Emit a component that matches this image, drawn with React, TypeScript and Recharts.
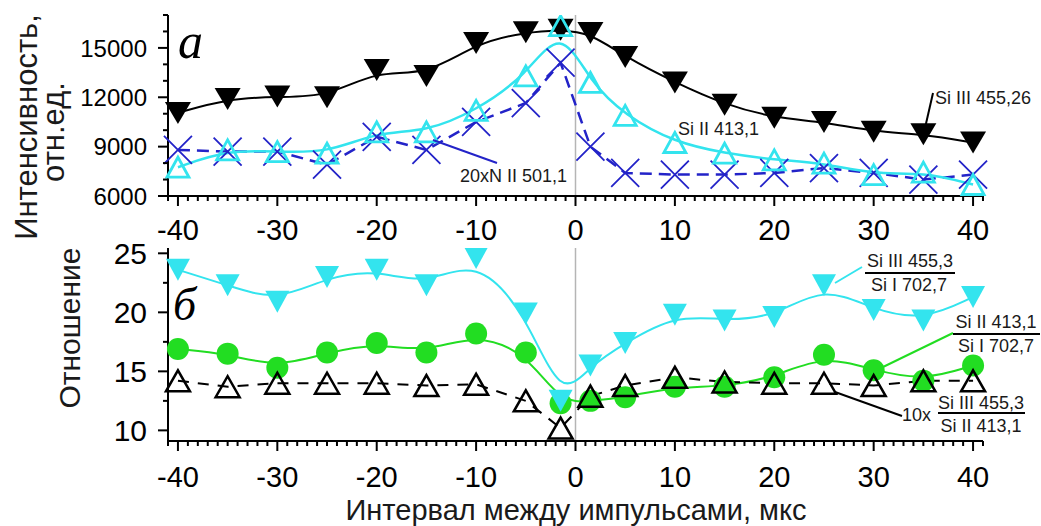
import React from 'react';
import { LineChart, Line, XAxis, YAxis, ReferenceLine } from 'recharts';

// interval between pulses, µs
const intervals = [-40, -35, -30, -25, -20, -15, -10, -5, -1.5, 1.5, 5, 10, 15, 20, 25, 30, 35, 40];

// panel а — intensity, arb. units
const siIII455 = [11050, 11900, 12050, 12000, 13650, 13300, 15300, 15950, 16100, 15900, 14450, 12900, 11550, 10750, 10500, 9900, 9750, 9250];
const siII413 = [7750, 8800, 8700, 8600, 9900, 9900, 11200, 13300, 16350, 12900, 10900, 9250, 8600, 8200, 8000, 7300, 7450, 6700];
const nII501x20 = [8800, 8700, 8700, 7900, 9600, 8800, 10500, 11650, 14100, 9000, 7400, 7300, 7300, 7400, 7700, 7400, 7000, 7300];

// panel б — line ratios
const siIIIoverSiI = [23.6, 22.3, 20.9, 23.0, 23.6, 22.3, 24.6, 19.9, 12.5, 15.5, 17.4, 19.8, 19.3, 19.6, 22.3, 20.2, 19.3, 21.3];
const siIIoverSiI = [16.9, 16.5, 15.3, 16.6, 17.4, 16.6, 18.2, 16.6, 12.3, 12.5, 12.8, 13.7, 13.7, 14.5, 16.4, 15.1, 14.2, 15.5];
const siIIIoverSiIIx10 = [14.2, 13.7, 14.0, 14.0, 14.0, 13.8, 13.9, 12.5, 10.2, 12.9, 13.8, 14.5, 14.1, 14.0, 14.0, 13.8, 14.2, 14.2];

const xLabels = [-40, -30, -20, -10, 0, 10, 20, 30, 40];
const topYLabels = [6000, 9000, 12000, 15000];
const bottomYLabels = [10, 15, 20, 25];

const topData = intervals.map((t, i) => ({ t, a: siIII455[i], b: siII413[i], c: nII501x20[i] }));
const bottomData = intervals.map((t, i) => ({ t, r1: siIIIoverSiI[i], r2: siIIoverSiI[i], r3: siIIIoverSiIIx10[i] }));

const xTicksAll: number[] = [];
for (let v = -41; v <= 41; v++) xTicksAll.push(v);
const topYTicks: number[] = [];
for (let v = 6000; v <= 17000; v += 1000) topYTicks.push(v);
const bottomYTicks = [10, 12.5, 15, 17.5, 20, 22.5, 25];

const FONT = '"Liberation Sans", Arial, sans-serif';
const SERIF = '"Liberation Serif", "Times New Roman", serif';
const CYAN = '#33e4ee';
const BLUE = '#2323c8';
const GREEN = '#22dd22';

const makeXTick = (offset: number) => (p: any) => {
  const { x, y, payload } = p;
  const major = xLabels.includes(payload.value);
  return (
    <g>
      <line x1={x} x2={x} y1={y} y2={y + (major ? 10 : 5)} stroke="#000" strokeWidth={2} />
      {major && (
        <text x={x} y={y + offset} textAnchor="middle" fontSize={29} fontFamily={FONT} fill="#000">
          {payload.value}
        </text>
      )}
    </g>
  );
};

const makeYTick = (labels: number[], size: number) => (p: any) => {
  const { x, y, payload } = p;
  const major = labels.includes(payload.value);
  return (
    <g>
      <line x1={x} x2={x - (major ? 10 : 5)} y1={y} y2={y} stroke="#000" strokeWidth={2} />
      {major && (
        <text x={x - 21} y={y} dy="0.36em" textAnchor="end" fontSize={size} fontFamily={FONT} fill="#000">
          {payload.value}
        </text>
      )}
    </g>
  );
};

const downTri = (fill: string, w: number, h: number) => (p: any) => {
  const { cx, cy, index } = p;
  return (
    <path key={`dt${index}`} d={`M${cx - w / 2},${cy - h / 2}L${cx + w / 2},${cy - h / 2}L${cx},${cy + h / 2}Z`} fill={fill} />
  );
};

const upTri = (stroke: string, w: number, h: number, sw: number) => (p: any) => {
  const { cx, cy, index } = p;
  return (
    <path key={`ut${index}`} d={`M${cx - w / 2},${cy + h / 2}L${cx + w / 2},${cy + h / 2}L${cx},${cy - h / 2}Z`} fill="none" stroke={stroke} strokeWidth={sw} strokeLinejoin="miter" />
  );
};

const cross = (stroke: string, s: number) => (p: any) => {
  const { cx, cy, index } = p;
  return (
    <path key={`x${index}`} d={`M${cx - s},${cy - s}L${cx + s},${cy + s}M${cx - s},${cy + s}L${cx + s},${cy - s}`} stroke={stroke} strokeWidth={1.8} fill="none" />
  );
};

const disc = (fill: string, r: number) => (p: any) => {
  const { cx, cy, index } = p;
  return <circle key={`c${index}`} cx={cx} cy={cy} r={r} fill={fill} />;
};

const axisLine = { stroke: '#000', strokeWidth: 2 };

function Annotations() {
  const t = { fontFamily: FONT, fill: '#1a1a1a' };
  return (
    <svg width={1041} height={526} style={{ position: 'absolute', left: 0, top: 0, pointerEvents: 'none' }}>
      <text x={37} y={127} transform="rotate(-90 37 127)" textAnchor="middle" fontSize={31} {...t}>Интенсивность,</text>
      <text x={64} y={132} transform="rotate(-90 64 132)" textAnchor="middle" fontSize={31} {...t}>отн.ед.</text>
      <text x={80} y={328} transform="rotate(-90 80 328)" textAnchor="middle" fontSize={30} {...t}>Отношение</text>
      <text x={576} y={520} textAnchor="middle" fontSize={29} {...t}>Интервал между импульсами, мкс</text>

      <text x={178} y={58} fontFamily={SERIF} fontStyle="italic" fontSize={50} fill="#000">а</text>
      <text x={173} y={320} fontFamily={SERIF} fontStyle="italic" fontSize={46} fill="#000">б</text>

      <line x1={925} y1={128} x2={933} y2={93} stroke="#000" strokeWidth={2} />
      <text x={935} y={104} fontSize={18} {...t}>Si III 455,26</text>
      <text x={678} y={135} fontSize={18} {...t}>Si II 413,1</text>
      <line x1={433} y1={140} x2={497} y2={163} stroke={BLUE} strokeWidth={2} />
      <text x={460} y={182} fontSize={18} {...t}>20xN II 501,1</text>

      <line x1={835} y1={283} x2={862} y2={267} stroke={CYAN} strokeWidth={2} />
      <text x={910} y={267} textAnchor="middle" fontSize={18} {...t}>Si III 455,3</text>
      <line x1={865} y1={273} x2={955} y2={273} stroke="#000" strokeWidth={2} />
      <text x={909} y={291} textAnchor="middle" fontSize={18} {...t}>Si I 702,7</text>

      <line x1={883} y1={367} x2={953} y2={333} stroke={GREEN} strokeWidth={2} />
      <text x={996} y={328} textAnchor="middle" fontSize={18} {...t}>Si II 413,1</text>
      <line x1={953} y1={334} x2={1040} y2={334} stroke="#000" strokeWidth={2} />
      <text x={996} y={352} textAnchor="middle" fontSize={18} {...t}>Si I 702,7</text>

      <line x1={835} y1={392} x2={902} y2={416} stroke="#000" strokeWidth={2} />
      <text x={902} y={421} fontSize={18} {...t}>10x</text>
      <text x={981} y={409} textAnchor="middle" fontSize={18} {...t}>Si III 455,3</text>
      <line x1={938} y1={413} x2={1025} y2={413} stroke="#000" strokeWidth={2} />
      <text x={981} y={432} textAnchor="middle" fontSize={18} {...t}>Si II 413,1</text>
    </svg>
  );
}

export default function App() {
  return (
    <div style={{ position: 'absolute', left: 0, top: 0, width: 1041, height: 526, background: '#fff' }}>
      <div style={{ position: 'absolute', left: 0, top: 0 }}>
        <LineChart width={1041} height={250} data={topData} margin={{ top: 15, right: 58, bottom: 0, left: 0 }}>
          <XAxis type="number" dataKey="t" domain={[-41, 41]} ticks={xTicksAll} interval={0} height={54}
            tickSize={0} tickMargin={0} tick={makeXTick(44)} axisLine={axisLine} tickLine={false} />
          <YAxis type="number" domain={[6000, 17000]} ticks={topYTicks} interval={0} width={168}
            tickSize={0} tickMargin={0} tick={makeYTick(topYLabels, 24)} axisLine={axisLine} tickLine={false} allowDataOverflow />
          <ReferenceLine x={0} stroke="#b5b5b5" strokeWidth={1.5} />
          <Line type="linear" dataKey="c" stroke={BLUE} strokeWidth={2.5} strokeDasharray="12 7" dot={cross(BLUE, 14)} isAnimationActive={false} />
          <Line type="basis" dataKey="a" stroke="#000" strokeWidth={2} dot={downTri('#000', 26, 22)} isAnimationActive={false} />
          <Line type="basis" dataKey="b" stroke={CYAN} strokeWidth={2.5} dot={upTri(CYAN, 22, 20, 2.8)} isAnimationActive={false} />
        </LineChart>
      </div>
      <div style={{ position: 'absolute', left: 0, top: 222 }}>
        <LineChart width={1041} height={304} data={bottomData} margin={{ top: 26, right: 58, bottom: 0, left: 0 }}>
          <XAxis type="number" dataKey="t" domain={[-41, 41]} ticks={xTicksAll} interval={0} height={85}
            tickSize={0} tickMargin={0} tick={makeXTick(46)} axisLine={axisLine} tickLine={false} />
          <YAxis type="number" domain={[9.1, 25.45]} ticks={bottomYTicks} interval={0} width={168}
            tickSize={0} tickMargin={0} tick={makeYTick(bottomYLabels, 30)} axisLine={axisLine} tickLine={false} allowDataOverflow />
          <ReferenceLine x={0} stroke="#b5b5b5" strokeWidth={1.5} />
          <Line type="basis" dataKey="r2" stroke={GREEN} strokeWidth={2} dot={disc(GREEN, 11)} isAnimationActive={false} />
          <Line type="basis" dataKey="r1" stroke={CYAN} strokeWidth={2} dot={downTri(CYAN, 24, 22)} isAnimationActive={false} />
          <Line type="linear" dataKey="r3" stroke="#000" strokeWidth={2} strokeDasharray="11 9" dot={upTri('#000', 24, 21, 2.5)} isAnimationActive={false} />
        </LineChart>
      </div>
      <Annotations />
    </div>
  );
}
